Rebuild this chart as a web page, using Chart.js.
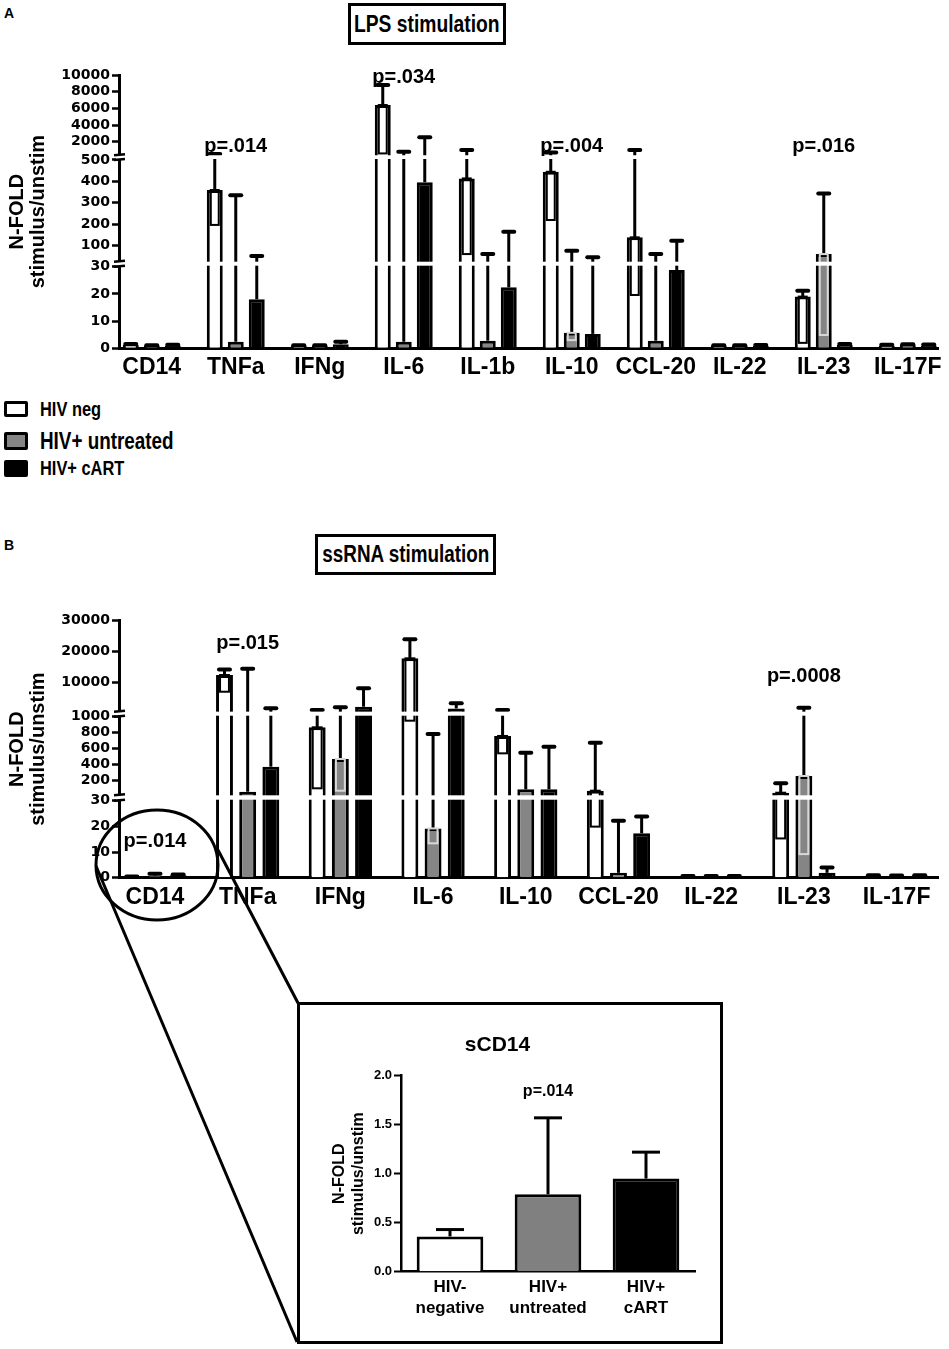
<!DOCTYPE html>
<html>
<head>
<meta charset="utf-8">
<script src="https://cdn.jsdelivr.net/npm/chart.js@4.4.1/dist/chart.umd.min.js"></script>
<style>
  html, body { margin: 0; padding: 0; background: #fff; }
  body { width: 949px; height: 1349px; position: relative; overflow: hidden;
         font-family: "Liberation Sans", Arial, sans-serif; font-weight: bold; color: #000; }
  .abs { position: absolute; }
  .tbox { position: absolute; border: 3px solid #000; box-sizing: border-box;
          display: flex; align-items: center; justify-content: center; }
  .narrow { display: inline-block; white-space: nowrap; transform: scaleX(0.82); }
  .sw { position: absolute; left: 4px; width: 24px; box-sizing: border-box; border: 3px solid #000; border-radius: 2px; }
  .lg { position: absolute; left: 40px; white-space: nowrap; transform: scaleX(0.82); transform-origin: left center; }
  #overlay { position: absolute; left: 0; top: 0; pointer-events: none; z-index: 5; }
</style>
</head>
<body>
<div class="abs" style="left:4px;top:5px;font-size:14px">A</div>
<div class="tbox" style="left:348px;top:3px;width:158px;height:42px"><span class="narrow" style="font-size:23.5px">LPS stimulation</span></div>
<div class="abs" style="left:0;top:60px;width:949px;height:330px"><canvas id="chartA"></canvas></div>

<div class="sw" style="top:401px;height:16px;background:#fff"></div>
<div class="lg" style="top:397px;font-size:20px;line-height:24px">HIV neg</div>
<div class="sw" style="top:432px;height:18px;background:#858585"></div>
<div class="lg" style="top:427px;font-size:23px;line-height:28px">HIV+ untreated</div>
<div class="sw" style="top:460px;height:17px;background:#000"></div>
<div class="lg" style="top:456px;font-size:20px;line-height:24px">HIV+ cART</div>

<div class="abs" style="left:4px;top:537px;font-size:14px">B</div>
<div class="tbox" style="left:315px;top:534px;width:181px;height:41px"><span class="narrow" style="font-size:23px">ssRNA stimulation</span></div>
<div class="abs" style="left:0;top:600px;width:949px;height:330px"><canvas id="chartB"></canvas></div>

<div class="abs" style="left:300px;top:1006px;width:418px;height:334px"><canvas id="chartC"></canvas></div>
<canvas id="overlay" width="949" height="1349"></canvas>

<script>
// ---- data: LPS stimulation (panel A) ----
const catsA = ['CD14', 'TNFa', 'IFNg', 'IL-6', 'IL-1b', 'IL-10', 'CCL-20', 'IL-22', 'IL-23', 'IL-17F'];
const negA    = [1.2, 360, 0.8, 6400, 414, 445, 139, 0.8, 19, 1.0];
const negUpA  = [1.6, 523, 1.1, 8800, 1000, 700, 1000, 1.1, 21.2, 1.3];
const negLowA = [null, 197, null, 600, 61, 220, 19.6, null, 2, null];
const untA    = [0.8, 2.4, 0.8, 2.4, 2.8, 5.7, 2.8, 0.8, 61, 1.2];
const untUpA  = [1.1, 336, 1.1, 800, 61, 77, 61, 1.1, 344, 1.5];
const untLowA = [null, null, null, null, null, 3, null, null, 4.9, null];
const cartA   = [1.0, 18, 1.5, 396, 22.4, 5.3, 28.8, 0.9, 1.2, 1.0];
const cartUpA = [1.3, 52, 2.4, 2530, 165, 46, 123, 1.2, 1.6, 1.4];
const ticksA  = [0, 10, 20, 30, 100, 200, 300, 400, 500, 2000, 4000, 6000, 8000, 10000];
const pTextA  = ['p=.014', 'p=.034', 'p=.004', 'p=.016'];
const pCatA   = [1, 3, 5, 8];
const pValA   = [1400, 9730, 1400, 1400];

// ---- data: ssRNA stimulation (panel B) ----
const catsB = ['CD14', 'TNFa', 'IFNg', 'IL-6', 'IL-10', 'CCL-20', 'IL-22', 'IL-23', 'IL-17F'];
const negB    = [0.36, 12480, 867, 17870, 759, 75, 0.5, 50, 0.8];
const negUpB  = [0.42, 14300, 1200, 24000, 1200, 675, 0.7, 167, 1.0];
const negLowB = [null, 7100, 105, 950, 542, 19.9, null, 15.3, null];
const untB    = [0.79, 62, 471, 19.2, 92, 1.9, 0.5, 259, 0.7];
const untUpB  = [1.56, 14500, 2060, 784, 550, 22.2, 0.7, 1940, 0.9];
const untLowB = [null, null, 75, 13.4, null, null, null, 9.2, null];
const cartB   = [0.95, 375, 2260, 1700, 92, 17.3, 0.5, 1.9, 0.8];
const cartUpB = [1.22, 1740, 8200, 3350, 625, 23.8, 0.7, 4, 1.0];
const ticksB  = [0, 10, 20, 30, 200, 400, 600, 800, 1000, 10000, 20000, 30000];
const pTextB  = ['p=.014', 'p=.015', 'p=.0008'];
const pCatB   = [0, 1, 7];
const pValB   = [14, 22700, 11900];

// ---- data: sCD14 inset ----
const catsC  = [['HIV-', 'negative'], ['HIV+', 'untreated'], ['HIV+', 'cART']];
const meanC  = [0.36, 0.79, 0.95];
const upC    = [0.43, 1.57, 1.22];
const pTextC = ['p=.014'];
const pCatC  = [1];
const pValC  = [1.84];

// broken axis layout: value ranges and where they sit (fraction of axis height)
const SEGS = {
  chartA: [{lo: 0, hi: 30, f0: 0, f1: 0.2986}, {lo: 30, hi: 500, f0: 0.3205, f1: 0.689}, {lo: 500, hi: 10000, f0: 0.710, f1: 1}],
  chartB: [{lo: 0, hi: 30, f0: 0, f1: 0.2996}, {lo: 30, hi: 1000, f0: 0.3245, f1: 0.6265}, {lo: 1000, hi: 30000, f0: 0.650, f1: 1}]
};
const NOTES = {
  chartA: {text: pTextA, cat: pCatA, val: pValA, font: 'bold 20px "Liberation Sans"'},
  chartB: {text: pTextB, cat: pCatB, val: pValB, font: 'bold 20px "Liberation Sans"'},
  chartC: {text: pTextC, cat: pCatC, val: pValC, font: 'bold 16px "Liberation Sans"'}
};

Chart.defaults.font.family = '"Liberation Sans", Arial, sans-serif';
Chart.defaults.animation = false;

// piecewise linear scale for the broken y axes
class BrokenScale extends Chart.LinearScale {
  segs() { return SEGS[this.chart.canvas.id]; }
  getPixelForValue(v) {
    const segs = this.segs();
    let s = segs[segs.length - 1];
    for (const g of segs) { if (v <= g.hi) { s = g; break; } }
    const f = s.f0 + (v - s.lo) / (s.hi - s.lo) * (s.f1 - s.f0);
    return this.bottom - f * (this.bottom - this.top);
  }
  getValueForPixel(p) {
    const f = (this.bottom - p) / (this.bottom - this.top);
    const segs = this.segs();
    let s = segs[segs.length - 1];
    for (const g of segs) { if (f <= g.f1) { s = g; break; } }
    return s.lo + (f - s.f0) / (s.f1 - s.f0) * (s.hi - s.lo);
  }
}
BrokenScale.id = 'broken';
BrokenScale.defaults = {};
Chart.register(BrokenScale);

// error whiskers (up) and the inner lower box that shows in hollow bars
const errorBars = {
  id: 'errorBars',
  afterDatasetsDraw(chart, args, opts) {
    const {ctx, scales: {y}} = chart;
    ctx.save();
    chart.data.datasets.forEach((ds, di) => {
      chart.getDatasetMeta(di).data.forEach((bar, i) => {
        const up = ds.up[i];
        const yUp = y.getPixelForValue(up);
        ctx.strokeStyle = '#000';
        ctx.lineCap = 'butt';
        ctx.lineWidth = 3;
        ctx.beginPath(); ctx.moveTo(bar.x, bar.y); ctx.lineTo(bar.x, yUp); ctx.stroke();
        ctx.lineWidth = opts.capLW;
        ctx.lineCap = opts.round ? 'round' : 'butt';
        ctx.beginPath(); ctx.moveTo(bar.x - opts.capW / 2, yUp); ctx.lineTo(bar.x + opts.capW / 2, yUp); ctx.stroke();
        const low = ds.low ? ds.low[i] : null;
        if (low != null) {
          const yLow = y.getPixelForValue(low);
          const hw = bar.width / 2 - 4;
          ctx.lineCap = 'butt';
          ctx.lineWidth = 2;
          ctx.strokeStyle = ds.lowColor;
          ctx.strokeRect(bar.x - hw, bar.y, hw * 2, yLow - bar.y);
        }
      });
    });
    ctx.restore();
  }
};

// white gaps through bars and axis where the y axis is broken
const breaks = {
  id: 'breaks',
  afterDatasetsDraw(chart) {
    const segs = SEGS[chart.canvas.id];
    if (!segs) return;
    const {ctx, chartArea: a, scales: {y}} = chart;
    const h = y.bottom - y.top;
    ctx.save();
    for (let k = 1; k < segs.length; k++) {
      const yLo = y.bottom - segs[k - 1].f1 * h;
      const yHi = y.bottom - segs[k].f0 * h;
      ctx.fillStyle = '#fff';
      ctx.fillRect(a.left - 3, yHi + 1, a.right - a.left + 3, yLo - yHi - 2);
      ctx.strokeStyle = '#000';
      ctx.lineWidth = 2.5;
      ctx.beginPath();
      ctx.moveTo(a.left - 5, yHi + 1); ctx.lineTo(a.left + 6, yHi);
      ctx.moveTo(a.left - 5, yLo); ctx.lineTo(a.left + 6, yLo - 1);
      ctx.stroke();
    }
    ctx.restore();
  }
};

// p-value labels placed through the scales
const notes = {
  id: 'notes',
  afterDraw(chart) {
    const n = NOTES[chart.canvas.id];
    if (!n) return;
    const {ctx, scales: {x, y}} = chart;
    ctx.save();
    ctx.font = n.font;
    ctx.fillStyle = '#000';
    ctx.textAlign = 'center';
    ctx.textBaseline = 'middle';
    n.text.forEach((t, i) => ctx.fillText(t, x.getPixelForValue(n.cat[i]), y.getPixelForValue(n.val[i])));
    ctx.restore();
  }
};

function groupSet(label, vals, up, low, fill, lowColor, barPct) {
  return {
    label, up, low, lowColor,
    data: vals.map((v, i) => ({x: i, y: v})),
    backgroundColor: fill, borderColor: '#000', borderWidth: 3,
    categoryPercentage: 0.75, barPercentage: barPct
  };
}

function brokenChart(id, cats, sets, xmin, xmax, tickVals, ymax, padTop, xHeight) {
  return new Chart(document.getElementById(id), {
    type: 'bar',
    data: {datasets: sets},
    options: {
      responsive: true, maintainAspectRatio: false,
      layout: {padding: {left: 0, right: 11, top: padTop, bottom: 0}},
      plugins: {legend: {display: false}, tooltip: {enabled: false},
                errorBars: {capW: 11, capLW: 4, round: true}},
      scales: {
        x: {
          type: 'linear', min: xmin, max: xmax, offset: false,
          afterBuildTicks: s => { s.ticks = cats.map((c, i) => ({value: i})); },
          afterFit: s => { s.height = xHeight; },
          ticks: {callback: v => cats[v], autoSkip: false, maxRotation: 0, padding: 6, color: '#000',
                  font: {family: 'Liberation Sans', weight: 'bold', size: 23}},
          grid: {display: false, drawTicks: false},
          border: {display: true, width: 3, color: '#000'}
        },
        y: {
          type: 'broken', min: 0, max: ymax,
          afterBuildTicks: s => { s.ticks = tickVals.map(v => ({value: v})); },
          afterFit: s => { s.width = 119; },
          ticks: {callback: v => String(v), autoSkip: false, padding: 2, color: '#000',
                  font: {family: 'DejaVu Sans', weight: 'bold', size: 14}},
          grid: {drawOnChartArea: false, drawTicks: true, tickLength: 7, tickWidth: 2.5, color: '#000'},
          border: {display: true, width: 3, color: '#000'},
          title: {display: true, text: ['N-FOLD', 'stimulus/unstim'], color: '#000',
                  font: {family: 'Liberation Sans', weight: 'bold', size: 20, lineHeight: 1.05},
                  padding: {top: 6.5, bottom: 0}}
        }
      }
    },
    plugins: [errorBars, breaks, notes]
  });
}

brokenChart('chartA', catsA, [
  groupSet('HIV neg', negA, negUpA, negLowA, '#fff', '#000', 0.76),
  groupSet('HIV+ untreated', untA, untUpA, untLowA, '#858585', '#d8d8d8', 0.76),
  groupSet('HIV+ cART', cartA, cartUpA, null, '#000', '#000', 0.76)
], -0.39, 9.36, ticksA, 10000, 15, 41.7);

brokenChart('chartB', catsB, [
  groupSet('HIV neg', negB, negUpB, negLowB, '#fff', '#000', 0.73),
  groupSet('HIV+ untreated', untB, untUpB, untLowB, '#858585', '#d8d8d8', 0.73),
  groupSet('HIV+ cART', cartB, cartUpB, null, '#000', '#000', 0.73)
], -0.388, 8.447, ticksB, 30000, 20.7, 52.3);

new Chart(document.getElementById('chartC'), {
  type: 'bar',
  data: {
    labels: catsC,
    datasets: [{data: meanC, up: upC, backgroundColor: ['#fff', '#808080', '#000'],
                borderColor: '#000', borderWidth: 3, categoryPercentage: 1, barPercentage: 0.68}]
  },
  options: {
    responsive: true, maintainAspectRatio: false,
    layout: {padding: {left: 0, right: 23, top: 0, bottom: 0}},
    plugins: {
      legend: {display: false}, tooltip: {enabled: false},
      title: {display: true, text: 'sCD14', color: '#000',
              font: {family: 'Liberation Sans', weight: 'bold', size: 21, lineHeight: 1.2},
              padding: {top: 26.4, bottom: 18.1}},
      errorBars: {capW: 28, capLW: 3, round: false}
    },
    scales: {
      x: {
        offset: true,
        afterFit: s => { s.height = 68.3; },
        ticks: {color: '#000', padding: 5, font: {family: 'Liberation Sans', weight: 'bold', size: 17, lineHeight: 1.24}},
        grid: {display: false, drawTicks: false},
        border: {display: true, width: 2.5, color: '#000'}
      },
      y: {
        min: 0, max: 2,
        afterFit: s => { s.width = 101; },
        ticks: {stepSize: 0.5, callback: v => v.toFixed(1), color: '#000', padding: 2,
                font: {family: 'Liberation Sans', weight: 'bold', size: 13}},
        grid: {drawOnChartArea: false, tickLength: 7, tickWidth: 2, color: '#000'},
        border: {display: true, width: 2.5, color: '#000'},
        title: {display: true, text: ['N-FOLD', 'stimulus/unstim'], color: '#000',
                font: {family: 'Liberation Sans', weight: 'bold', size: 16, lineHeight: 1.19},
                padding: {top: 30, bottom: 0}}
      }
    }
  },
  plugins: [errorBars, notes]
});

// zoom callout: circle round CD14 in panel B, leader lines, inset frame
const c = document.getElementById('overlay').getContext('2d');
c.strokeStyle = '#000';
c.lineWidth = 3;
c.beginPath(); c.ellipse(157, 865, 61, 55, 0, 0, Math.PI * 2); c.stroke();
c.beginPath(); c.moveTo(96, 866); c.lineTo(297, 1342); c.stroke();
c.beginPath(); c.moveTo(218, 850); c.lineTo(298, 1003); c.stroke();
c.strokeRect(298.5, 1003.5, 423, 339);
</script>
</body>
</html>
